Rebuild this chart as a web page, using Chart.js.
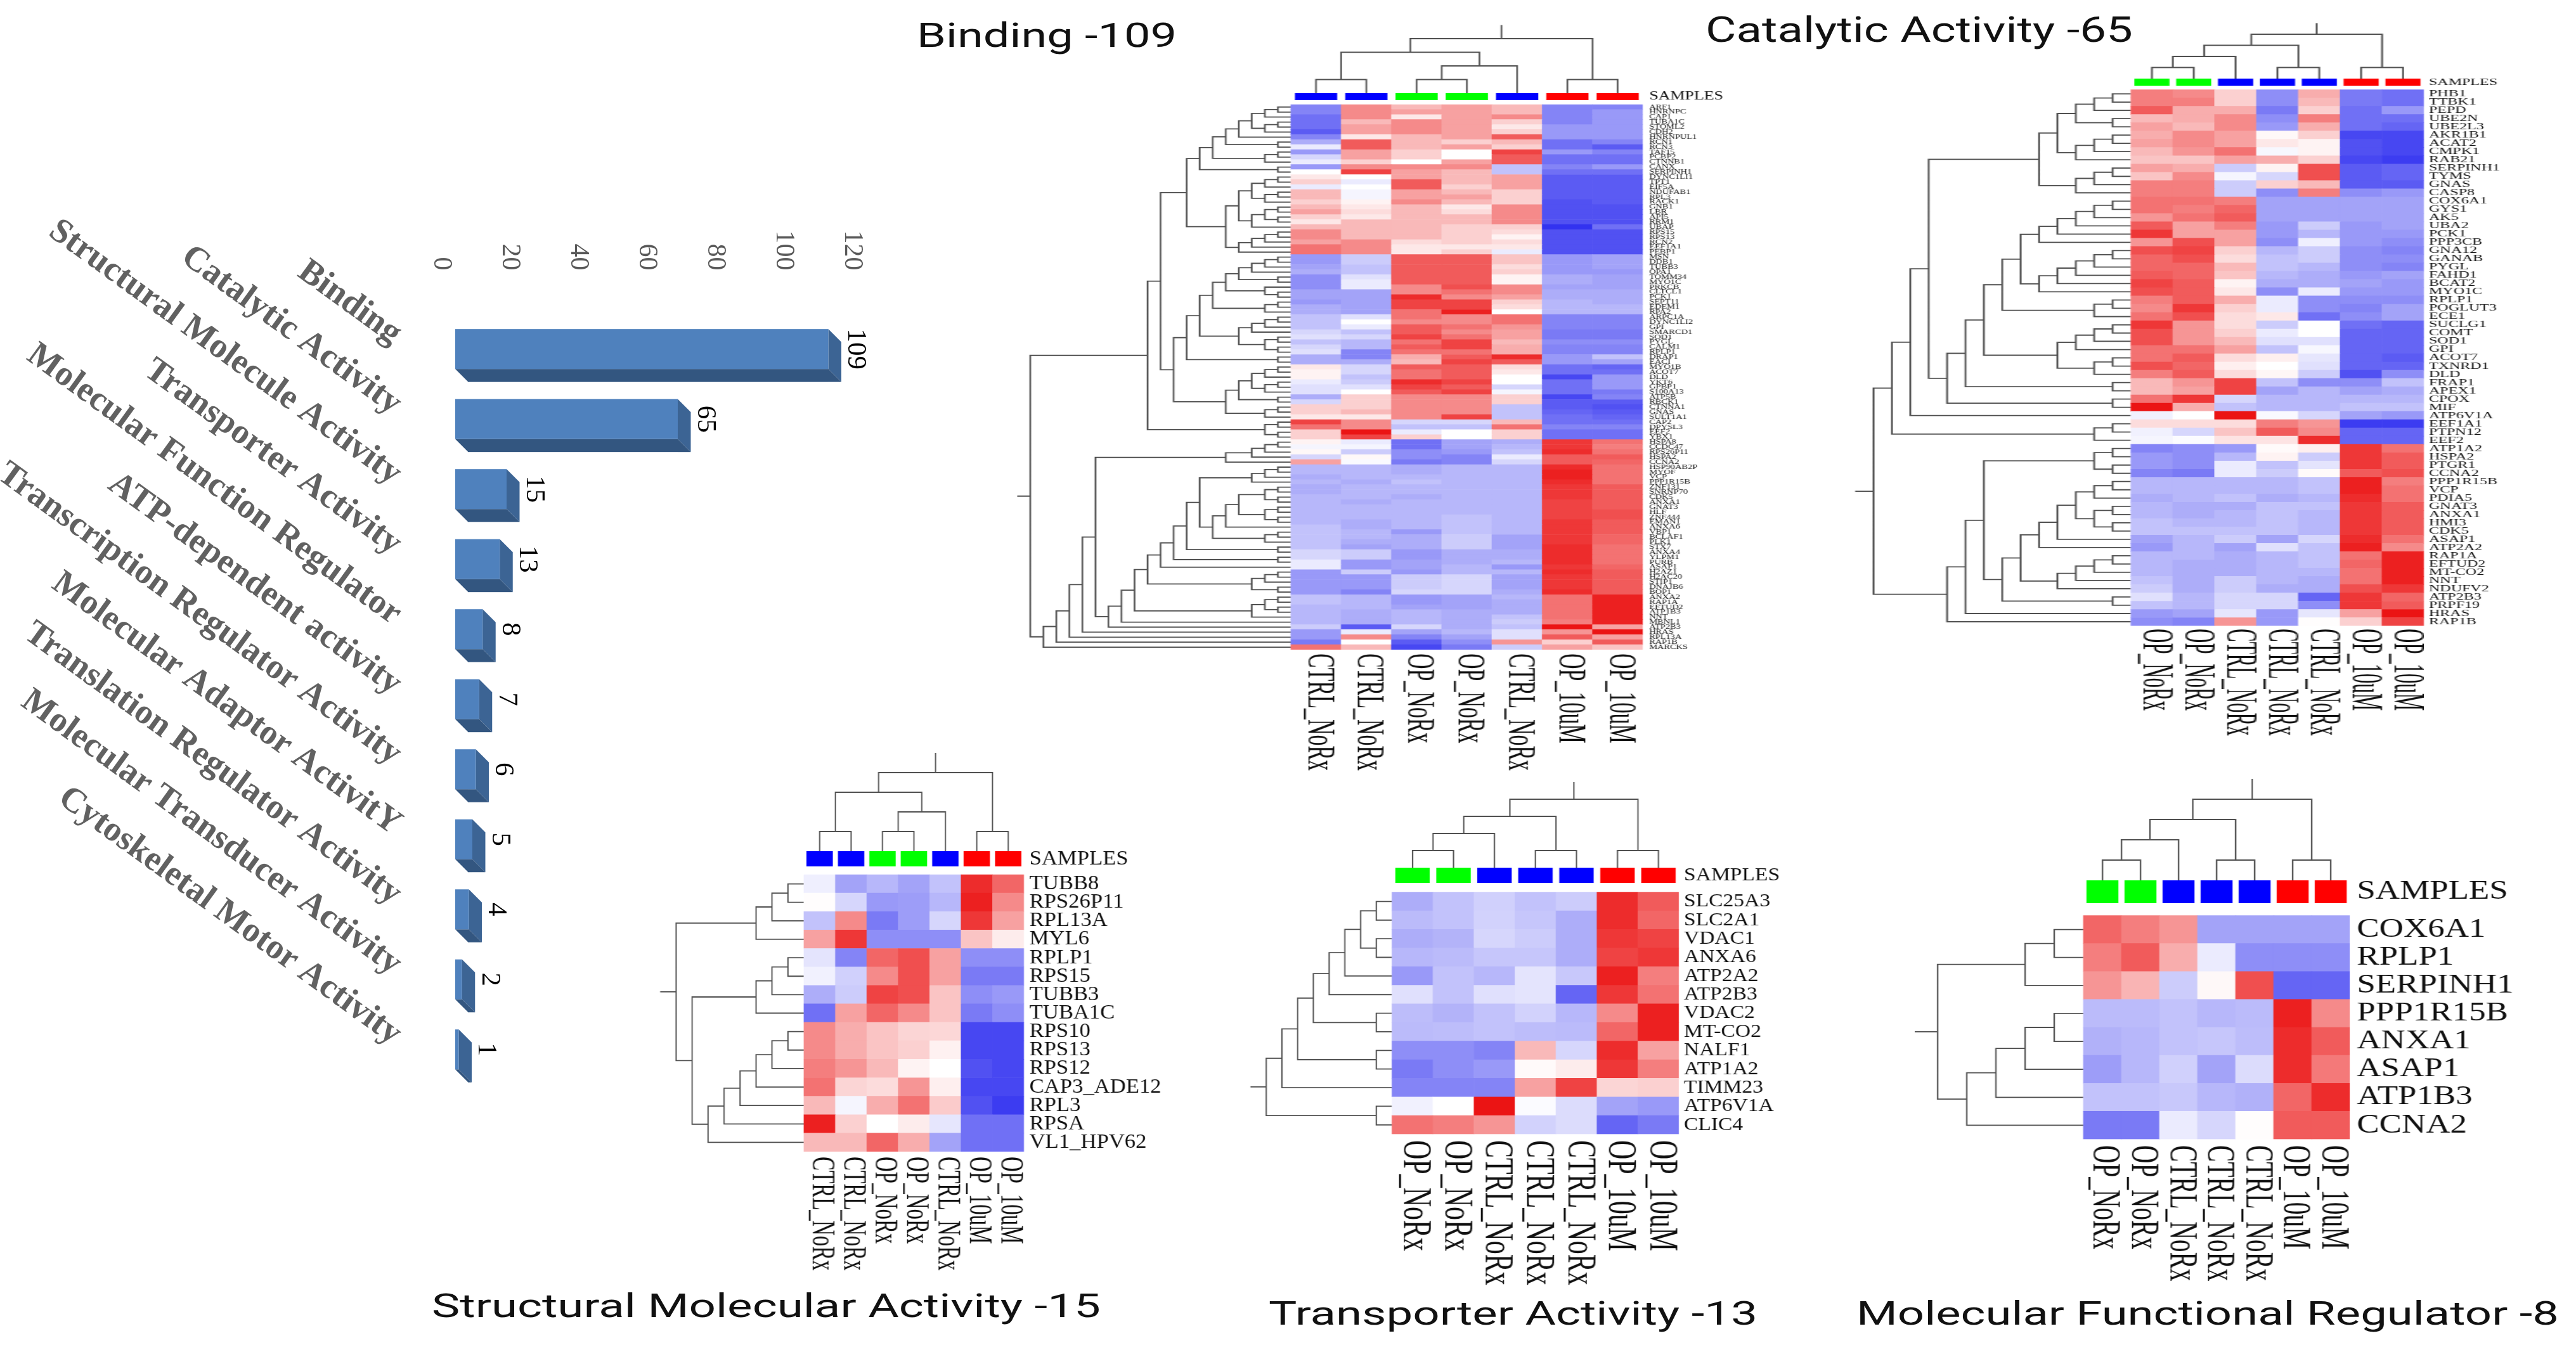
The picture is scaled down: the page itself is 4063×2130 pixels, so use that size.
<!DOCTYPE html>
<html>
<head>
<meta charset="utf-8">
<title>GO molecular function heatmaps</title>
<script src="https://cdn.jsdelivr.net/npm/chart.js@4/dist/chart.umd.min.js"></script>
<style>
html, body { margin: 0; padding: 0; background: #fff; }
#page { position: relative; width: 4063px; height: 2130px; overflow: hidden; background: #fff; }
#page canvas { position: absolute; display: block; }
.panel_title { position: absolute; white-space: nowrap; font-family: Roboto, sans-serif; color: #111; line-height: 1; transform-origin: 0 50%; }
</style>
</head>
<body>
<div id="page"></div>
<script>
// ---- bar chart data
const go_categories = ['Binding', 'Catalytic Activity', 'Structural Molecule Activity', 'Transporter Activity',
    'Molecular Function Regulator', 'ATP-dependent activity', 'Transcription Regulator Activity',
    'Molecular Adaptor ActivitY', 'Translation Regulator Activity', 'Molecular Transducer Activity',
    'Cytoskeletal Motor Activity'];
const go_counts = [109, 65, 15, 13, 8, 7, 6, 5, 4, 2, 1];

// ---- heatmap data, values run from -10 (blue) through 0 (white) to 10 (red)
// trees are [left, right, level] nodes, a plain number is a row or column
const binding_samples = ['CTRL_NoRx', 'CTRL_NoRx', 'OP_NoRx', 'OP_NoRx', 'CTRL_NoRx', 'OP_10uM', 'OP_10uM'];
const binding_genes = ['ARF1','HNRNPC','CAP1','TUBA1C','STOML2','CDH2','HNRNPUL1','RCN1','RCN3','TAF15','PCBP2','CTNNB1','CANX','SERPINH1','DYNC1LI1','TPT1','EIF5A','NDUFAB1','RPL3','RACK1','GNB1','LBR','API5','RRM1','UBAP','RPS15','RPS13','RCN2','EEF1A1','PEBP1',
    'MSN','DDB1','TUBB3','OPA1','TOMM34','MYO1C','PRKCB','CLTCL1','PCK1','SEPT11','EDEM1','RPA2','ARPC1A','DYNC1LI2','GPI','SMARCD1','SOD1','PYGL','CALM1','RPLP1','DRAP1','EACI','MYO1B','ACOT7','DLD','YKT6','GPBP1','S100A13','ATP5B','RBCK1','CTNNA1','GNAS','SULT1A1','CAP2','DPYSL3','EEF2','YBX1',
    'HSPA8','CCDC47','RPS26P11','HSPA2','CCNA2','HSP90AB2P','MYOF','VCP','PPP1R15B','ZNF131','SNRNP70','CDK5','ANXA1','GNAT3','HLF','ZNF444','EMAN1','ANXA6','VBP1','BCLAF1','PLK1','STX7','ANXA4','YLPM1','PURB','ASAP1','H2AZ1','H2AC20','STIP1','DNAJB6','BOP1','ANXA2','RAP1A','EFTUD2','ATP1B3','NNT','MBNL1','ATP2B3','HRAS','RPL13A','RAP1B','MARCKS'];
const binding_values = [
[-6,5,3,4,3,-6,-6],[-6,5,4,4,3,-6,-5],[-7,5,1,4,5,-6,-5],[-7,3,5,4,2,-6,-5],[-7,4,5,4,1,-5,-5],[-8,4,5,4,2,-5,-5],[-6,1,3,4,7,-5,-5],
[-4,7,3,2,3,-7,-6],[-1,7,3,4,2,-7,-8],[-5,4,2,0,8,-5,-6],[-2,4,2,0,7,-7,-7],[-1,2,0,4,7,-7,-7],[-5,5,5,5,-3,-6,-5],[0,8,4,3,-3,-7,-7],
[1,0,4,3,4,-8,-8],[2,-1,7,3,4,-8,-8],[-1,0,7,2,4,-8,-8],[3,-0.5,4,3,2,-8,-8],[3,-0.5,4,4,2,-8,-8],[2,0.5,5,3,2,-8.5,-8],[3,1,3,1,5,-8.5,-8.5],
[4,1.5,3,1.5,5,-8.5,-8.5],[2,1,3,3,5,-8.5,-8.5],[1,3,3,3,5,-8.5,-8.5],[3,3,3,2,2,-10,-7],[5,3,3,2,1.5,-8.5,-8.5],[5,3,3,2,0.5,-8.5,-8.5],[4,5,1.5,2,1.5,-8.5,-8.5],[6,5,1,1,1,-8.5,-8.5],[6,5,1,2,-1,-8.5,-8.5],
[-5,-2.5,7,7,2.5,-5,-4.5],[-5,-2.5,7,7,2.5,-5,-4.5],[-4.5,-3,7,7,1.5,-5,-4.5],[-4,-3,7,7,2,-5,-5],[-5.5,-1.5,7,7,0.5,-4,-4.5],[-5.5,-1,7,7,0.5,-4,-4.5],[-5.5,-1,5,7.5,5,-4.5,-4.5],
[-4.5,-4.5,5,6,5,-4,-4],[-4.5,-4.5,9,5,4,-4,-4],[-5,-4.5,8,8,2,-3.5,-4],[-4,-4.5,8,8,1.5,-3.5,-3.5],[-4,-4.5,6,9.5,0,-3.5,-3.5],[-3,-1.5,6,5,6,-6,-6],[-3,0,5,5,6,-6,-6],
[-3,-1,7,6,4.5,-6,-6],[-2,-3,7,5,4,-6.5,-6.5],[-1.5,-2,8,6,4,-6.5,-6.5],[-3,-3.5,6,8,3,-5.5,-5.5],[-2,-3.5,7,8,3.5,-6,-6],[-1.5,-6,6,6,3.5,-6,-6],[-4,-6,3.5,7,9,-5,-3],[-4,-4,3,8,7,-5,-4.5],
[1,-2,7,7,1.5,-7,-7.5],[0.5,-2,6,7,1,-7,-7],[0.5,-3,6,7,0,-9,-5],[-1,-2.5,9,8,0,-7,-5],[-1.5,-1.5,8,7,-2,-7,-5],[-1.5,0,7,8,-0.5,-7,-6.5],[-4,2,5,5,2,-9,-6],[-2,2,5,5,2,-8,-8],
[2,2,5,5,-3,-8,-8.5],[2,3,5,5,-3,-7.5,-8],[1,1,5,8,-3,-7,-7.5],[8,5,-2,-2,3,-7,-7],[6,5,-3,-3,6,-6,-6],[2,10,-1,0,2,-7,-7],[2,8,2,0,2,-7,-7],
[0.5,-1,-7,-4.5,-4,8.5,6],[-0.5,-0.5,-7,-4.5,-3.5,8.5,5.5],[0.3,-2.5,-5.5,-5,-3,9,6],[-2,0.3,-5.5,-6,-1,7,7],[4,-0.3,-6.5,-6,-2,7,6.5],
[-3.5,-3.5,-4,-3.5,-3.5,9,6],[-3.5,-3.5,-4,-3.5,-3.5,9.5,6],[-4,-3.5,-3.5,-3.5,-3.5,9.5,6],[-3.5,-4,-3,-3.5,-3.5,9,6],[-4,-3.5,-3.5,-3.5,-3.5,8.5,7],[-4,-3.5,-3.5,-3.5,-3.5,8.5,7],
[-3.5,-3.5,-4,-3.5,-3.5,8.5,7],[-3.5,-4,-3.5,-3.5,-3.5,8,7],[-3.5,-3.5,-3.5,-3.5,-3.5,8,7],[-3.5,-3.5,-3.5,-3.5,-3.5,8,7.5],[-3.5,-3.5,-3.5,-3,-3.5,8,7.5],[-3.5,-4,-3.5,-3,-3.5,8.5,7],
[-3,-4,-3.5,-3,-3.5,8.5,7],[-3,-3.5,-5,-3,-3.5,8.5,7],[-3,-3.5,-4,-2.5,-4.5,8.5,6.5],[-3,-4,-4,-2.5,-4.5,8.5,6.5],[-3,-4.5,-4,-2.5,-4.5,9,6],[-2,-2.5,-5,-4,-4,9,6],[-2,-2.5,-5,-4,-4,9,6],
[-1,-5,-4.5,-4,-3.5,9,6],[-1,-5,-4.5,-3.5,-5,8.5,6.5],[-5,-2.5,-5,-3.5,-3.5,9,7],[-5,-5,-2.5,-2,-4.5,8.5,7],[-5,-5,-2.5,-2,-4.5,8.5,7],[-5,-5,-2.5,-2,-4.5,8.5,7],[-5,-6,-2,-2,-4,9,7],
[-3,-3.5,-5,-4.5,-3.5,6,9.5],[-3,-3.5,-5,-4.5,-4,6,9.5],[-3.5,-3.5,-4.5,-4.5,-4,6,9.5],[-3.5,-4,-3.5,-4,-4,6,9.5],[-3.5,-4,-3.5,-4,-3,6,9.5],[-3.5,-4,-3.5,-4,-2.5,5.5,9.5],
[-2.5,-8,-2,-4,-3,10,4],[-5,-1,-4.5,-3.5,-1.5,4.5,10],[-5,5,-6,-4.5,-1.5,7,4],[-6.5,0,-8,-5.5,4.5,2,7],[6,3,-9,-6.5,-2.5,4,2.5]];
const binding_col_tree = [[[0,1,1],[[2,3,1],4,2],3],[5,6,1],4];
const b0 = [[[[0,1,1],2,2],[[3,4,1],5,2],3],6,4];
const b13 = [[[b0,[7,8,1],5],[[9,10,1],11,2],6],[12,13,1],7];
const b14 = [[[14,15,1],16,2],[[17,18,1],19,2],3];
const b20 = [[[20,21,1],[22,23,1],2],24,3];
const b25 = [[[[25,26,1],27,2],28,3],29,4];
const b29 = [[b14,b20,4],b25,5];
const b30 = [[[[30,31,1],32,2],33,3],[34,35,1],4];
const b42 = [[[[42,43,1],44,2],45,3],[[46,47,1],[48,49,1],2],4];
const b51 = [[[[b30,[36,[37,38,1],2],5],[[39,40,1],41,2],6],b42,7],[50,51,1],8];
const b52 = [[[[52,53,1],54,2],[[55,56,1],57,2],3],[58,59,1],4];
const b62 = [b52,[[60,61,1],62,2],5];
const b66 = [[[b13,b29,8],[b51,b62,9],10],[[63,64,1],[65,66,1],2],11];
const b72 = [[[72,73,1],74,2],75,3];
const b76 = [[[[76,77,1],[78,79,1],2],[[80,81,1],[82,83,1],2],4],84,5];
const b87 = [b72,[b76,[[85,86,1],87,2],6],7];
const b92 = [[[b87,[88,89,1],8],[90,91,1],9],92,10];
const b97 = [b92,[[[93,94,1],95,2],[96,97,1],3],11];
const b102 = [b97,[[[98,99,1],[100,101,1],2],102,3],12];
const b104 = [[b102,103,13],104,14];
const b67 = [[[[67,68,1],69,2],70,3],71,5];
const b108 = [[[[[b67,b104,15],105,16],106,17],107,18],108,19];
const binding_row_tree = [b66,b108,20];

const catalytic_samples = ['OP_NoRx', 'OP_NoRx', 'CTRL_NoRx', 'CTRL_NoRx', 'CTRL_NoRx', 'OP_10uM', 'OP_10uM'];
const catalytic_genes = ['PHB1','TTBK1','PEPD','UBE2N','UBE2L3','AKR1B1','ACAT2','CMPK1','RAB21','SERPINH1','TYMS','GNAS','CASP8','COX6A1','GYS1','AK5','UBA2','PCK1','PPP3CB','GNA12','GANAB','PYGL','FAHD1','BCAT2','MYO1C','RPLP1','POGLUT3','ECE1','SUCLG1','COMT','SOD1','GPI','ACOT7','TXNRD1','DLD','FRAP1','APEX1','CPOX','MIF','ATP6V1A','EEF1A1','PTPN12','EEF2','ATP1A2','HSPA2','PTGR1','CCNA2','PPP1R15B','VCP','PDIA5','GNAT3','ANXA1','HMI3','CDK5','ASAP1','ATP2A2','RAP1A','EFTUD2','MT-CO2','NNT','NDUFV2','ATP2B3','PRPF19','HRAS','RAP1B'];
const catalytic_values = [
[5.5,5,2,-5.5,3.5,-6.5,-7],[5.5,5.5,2,-5.5,3,-6.5,-7],[7,3.5,3.5,-6.5,2,-7,-5],[3,3.5,5,-5.5,5.5,-7,-7],[4,3,5,-5,3.5,-7,-7.5],[3.5,5,4,0.3,2,-9,-9],[4,5,4,1,0.5,-8.5,-9],[3,4.5,6,-0.4,0.5,-8.5,-9],[2.5,2.5,4,3.5,2,-9,-9.5],
[4,3.5,-2.5,0.5,7.5,-8,-7.5],[2.5,5,-0.5,-2,7.5,-8,-7.5],[5.5,5.5,-2.5,2,3,-8,-8],[5.5,5.5,-2.5,-5.5,5.5,-5.5,-5],[6,6,5.5,-4.5,-4.5,-4.5,-4.5],[6,5.5,6.5,-4.5,-4.5,-4.5,-4.5],[4.5,6,7,-4.5,-4.5,-4.5,-4.5],
[7,4,5.5,-5,-2.5,-5,-4.5],[8.5,4,4,-5,-3.5,-5,-5],[4.5,7.5,4,-5.5,-0.8,-5,-5.5],[7.5,8,2,-3.5,-2.5,-5.5,-6],[6.5,7.5,1.5,-3,-2.5,-5.5,-5.5],[6.5,6.5,3,-3,-3.5,-5.5,-6],[7,6.5,2.5,-3.5,-4,-5,-4.5],[8,7,0.5,-4,-4,-4.5,-5],[7.5,7,1,-5.5,-1,-5,-5],
[5.5,7,3.5,-1,-5.5,-5.5,-5.5],[5,8.5,2,-1,-5.5,-6,-4.5],[6,7.5,1.5,1,-7,-5.5,-4.5],[8.5,4.5,1.5,-2.5,0,-7,-7.5],[7.5,4.5,2,-1,0,-7.5,-7.5],[7.5,4.5,3,-1.5,-1.5,-7.5,-7.5],[6,6,4,-3,-0.4,-7.5,-7.5],[6,7,1.5,0.7,-1.2,-7.5,-8],[7.5,6.5,0.7,0,-1.5,-7.5,-7.5],[5.5,7,1.5,0.4,-2.5,-8.5,-5.5],
[3,4.5,8,-3,-5.5,-5.5,-3],[3,4,8,-4.5,-3.5,-4.5,-4],[6,8.5,-2,-3.5,-3.5,-3.5,-3.5],[10,3.5,-3,-3.5,-3.5,-3,-3],[-0.7,0,10,-0.3,-2,-4.5,-5],[1.5,1.5,1.5,5.5,4.5,-9.5,-9.5],[-0.7,-2,2.5,7,5,-7.5,-7.5],[-0.5,-0.2,1.2,1.2,9,-7.5,-7.5],
[-6,-5.5,-5,0.2,0.7,8.5,6],[-5,-5.5,-3.5,0.5,-2.5,8.5,7],[-5,-5.5,-1,-3,-1.3,8.5,7],[-6,-6.5,-1,-2.5,0.2,7,7.5],[-3.5,-3.5,-3.5,-3.5,-3,9.5,5.5],[-3.5,-3.5,-3.5,-3.5,-3,9.5,6],[-4,-3.5,-3,-4,-3.5,9,6],[-3.5,-4,-4,-3,-3,8.5,7],[-3.5,-4,-3.5,-3,-3.5,8.5,7],[-3,-3.5,-3.5,-3,-3.5,8.5,7],[-3,-3,-3,-3,-3.5,8.5,7],
[-4.5,-3.5,-2.5,-4.5,-2,9,6],[-5,-3.5,-4.5,-1.5,-3,9.5,5],[-3.5,-3.5,-4,-3.5,-3,6,9.5],[-3.5,-4,-4,-3.5,-3,6.5,9.5],[-3.5,-4,-4,-3.5,-3.5,6,9.5],[-3,-4,-2.5,-3.5,-4,6,9.5],[-2.5,-4,-2.5,-4,-4,7.5,8.5],[-1.5,-3.5,-2,-2,-7.5,8.5,6.5],[-3,-3.5,-2,-2,-5.5,8.5,7],[-5,-4.5,-1.2,-5,-1.2,4,10],[-5.5,-6,4.5,-5,0.1,2,8]];
const catalytic_col_tree = [[[[0,1,1],2,2],[3,4,1],3],[5,6,1],4];
const c0 = [[[0,1,1],2,2],[3,4,1],3];
const c5 = [[[5,6,1],7,2],8,3];
const c9 = [[[9,10,1],11,2],12,3];
const c12 = [[c0,c5,4],c9,5];
const c18 = [[[[[13,14,1],15,2],16,3],17,4],18,5];
const c24 = [[[[[19,20,1],21,2],22,3],23,4],24,5];
const c27 = [[c18,c24,6],[[25,26,1],27,2],7];
const c34 = [c27,[[[[28,29,1],30,2],31,3],[[32,33,1],34,2],4],8];
const c38 = [[c34,[35,36,1],9],[37,38,1],10];
const c42 = [[[c12,c38,11],39,12],[[40,41,1],42,2],13];
const c53 = [[[47,48,1],49,2],[[50,51,1],[52,53,1],2],3];
const c55 = [[c53,54,4],55,5];
const c60 = [[[[56,57,1],58,2],59,3],60,4];
const c62 = [[c55,c60,6],[61,62,1],7];
const c64 = [[[[[43,44,1],[45,46,1],2],c62,8],63,9],64,10];
const catalytic_row_tree = [c42,c64,14];

const structural_samples = ['CTRL_NoRx', 'CTRL_NoRx', 'OP_NoRx', 'OP_NoRx', 'CTRL_NoRx', 'OP_10uM', 'OP_10uM'];
const structural_genes = ['TUBB8','RPS26P11','RPL13A','MYL6','RPLP1','RPS15','TUBB3','TUBA1C','RPS10','RPS13','RPS12','CAP3_ADE12','RPL3','RPSA','VL1_HPV62'];
const structural_values = [
[-0.8,-4.5,-3.5,-4.5,-3,9,6.5],[0.1,-2,-5,-4.8,-3.5,9.5,5],[-3,5,-6.5,-4.8,-2,8.5,4],[4,8.5,-5.5,-5.5,-5.5,2.5,0.8],[-1.3,-6,6.5,7.5,4,-5.5,-5.5],
[-0.7,-2.3,5,7.5,4,-6.5,-6.5],[-4,-2.5,8,7.5,2.5,-5.5,-5],[-7,4,6.5,5,2.5,-6.5,-5.5],[5,3.5,2.5,1.8,1.7,-9,-9],[5,3.5,2.5,2,0.6,-9,-9],
[5.5,4.5,3,0.5,0,-8.5,-9],[6,1.8,1.5,4.5,0.7,-9,-9],[3,-0.5,3.5,6,2.2,-8.5,-9.5],[9.5,2,0,0.8,-1.2,-7,-7],[3,3,6.5,3.5,-4.5,-7,-7]];
const structural_col_tree = [[[0,1,1],[[2,3,1],4,2],3],[5,6,1],4];
const s3 = [[[0,1,1],2,2],3,3];
const s7 = [[[4,5,1],6,2],7,3];
const s14 = [[[[[[8,9,1],10,2],11,3],12,4],13,5],14,6];
const structural_row_tree = [s3,[s7,s14,7],8];

const transporter_samples = ['OP_NoRx', 'OP_NoRx', 'CTRL_NoRx', 'CTRL_NoRx', 'CTRL_NoRx', 'OP_10uM', 'OP_10uM'];
const transporter_genes = ['SLC25A3','SLC2A1','VDAC1','ANXA6','ATP2A2','ATP2B3','VDAC2','MT-CO2','NALF1','ATP1A2','TIMM23','ATP6V1A','CLIC4'];
const transporter_values = [
[-4,-3,-2.3,-3,-2.5,9,7],[-3.3,-3,-2.2,-2.8,-4,9,6.5],[-4,-3.7,-2,-2.5,-4,8.5,8],[-3.5,-3.3,-2.8,-2.8,-4,8,8.5],[-5,-3,-3.5,-1.3,-2.7,9.5,5.5],[-1.5,-3,-1.5,-1.3,-7.5,8.5,6],
[-3.2,-3.7,-3,-2.2,-3.5,5,9.5],[-3.3,-3.2,-3,-3.2,-3.3,6.5,9.5],[-5.5,-5.5,-6,3,-2,9,4],[-6.5,-5.5,-5,0.2,0.8,8.5,5.5],[-6,-6,-6,4,8,1.8,2],[-0.7,0,10,-0.2,-1.7,-4.5,-5],[6,5.5,4.5,-2.2,-1.7,-7.5,-6.5]];
const transporter_col_tree = [[[[0,1,1],2,2],[3,4,1],3],[5,6,1],4];
const t5 = [[[[0,1,1],[2,3,1],2],4,3],5,4];
const transporter_row_tree = [[[[t5,[6,7,1],5],[8,9,1],6],10,7],[11,12,1],8];

const regulator_samples = ['OP_NoRx', 'OP_NoRx', 'CTRL_NoRx', 'CTRL_NoRx', 'CTRL_NoRx', 'OP_10uM', 'OP_10uM'];
const regulator_genes = ['COX6A1','RPLP1','SERPINH1','PPP1R15B','ANXA1','ASAP1','ATP1B3','CCNA2'];
const regulator_values = [
[6.5,5.5,4.5,-4.5,-4.5,-4.5,-4.5],[5.5,7,3.5,-1,-5.5,-5.5,-5.5],[4.5,3.2,-2.5,0.3,7.5,-7.5,-7.5],[-3.3,-3.3,-3,-3.5,-3.3,9.5,5],
[-3.8,-3.5,-3,-2.8,-3.2,9,7],[-4.8,-3.5,-2.3,-4.5,-1.7,9,5.7],[-3,-3,-2.7,-3.5,-3.8,6.5,9],[-6.5,-6.5,-1,-2,0.1,7,7]];
const regulator_col_tree = [[[[0,1,1],2,2],[3,4,1],3],[5,6,1],4];
const regulator_row_tree = [[[0,1,1],2,2],[[[[3,4,1],5,2],6,3],7,4],5];

// ---- layout of each heatmap on the page, pixels
const panels = [
    {samples: binding_samples, genes: binding_genes, values: binding_values, col_tree: binding_col_tree, row_tree: binding_row_tree,
     stretch: 1.44, left: 1600, right: 2760, top: 30, bottom: 1235, heat_left: 2036, heat_right: 2591, heat_top: 165, heat_bottom: 1025,
     strip_top: 147, strip_bottom: 158, col_level: 21.5, row_level: 20.55, gene_font: 10, label_font: 18, sample_font: 34, sample_top: 1031, sample_stretch: 1.85, gene_pad: 7},
    {samples: catalytic_samples, genes: catalytic_genes, values: catalytic_values, col_tree: catalytic_col_tree, row_tree: catalytic_row_tree,
     stretch: 1.6, left: 2920, right: 3993, top: 30, bottom: 1200, heat_left: 3361, heat_right: 3823, heat_top: 141.6, heat_bottom: 987.5,
     strip_top: 124, strip_bottom: 135.6, col_level: 17.5, row_level: 29, gene_font: 15, label_font: 15, sample_font: 31, sample_top: 992, sample_stretch: 2.2, gene_pad: 5},
    {samples: structural_samples, genes: structural_genes, values: structural_values, col_tree: structural_col_tree, row_tree: structural_row_tree,
     stretch: 1.07, left: 1030, right: 1855, top: 1180, bottom: 2020, heat_left: 1268, heat_right: 1615, heat_top: 1380, heat_bottom: 1817,
     strip_top: 1343, strip_bottom: 1367, col_level: 31, row_level: 25.2, gene_font: 32.4, label_font: 32.4, sample_font: 33, sample_top: 1825, sample_stretch: 1.55, gene_pad: 8},
    {samples: transporter_samples, genes: transporter_genes, values: transporter_values, col_tree: transporter_col_tree, row_tree: transporter_row_tree,
     stretch: 1.12, left: 1965, right: 2828, top: 1228, bottom: 2040, heat_left: 2195.5, heat_right: 2648, heat_top: 1407.7, heat_bottom: 1789.5,
     strip_top: 1369, strip_bottom: 1393, col_level: 27, row_level: 24.8, gene_font: 30, label_font: 30, sample_font: 42, sample_top: 1799, sample_stretch: 1.52, gene_pad: 7},
    {samples: regulator_samples, genes: regulator_genes, values: regulator_values, col_tree: regulator_col_tree, row_tree: regulator_row_tree,
     stretch: 1.25, left: 3020, right: 3976, top: 1222, bottom: 2032, heat_left: 3286, heat_right: 3706, heat_top: 1444.5, heat_bottom: 1797.5,
     strip_top: 1389, strip_bottom: 1425, col_level: 32, row_level: 46, gene_font: 42.4, label_font: 42.4, sample_font: 39.4, sample_top: 1807, sample_stretch: 1.6, gene_pad: 9}
];
const titles = [
    {text: 'Binding -109', left: 1446, right: 1856, mid: 56, size: 53},
    {text: 'Catalytic Activity -65', left: 2690, right: 3364, mid: 47.5, size: 55},
    {text: 'Structural Molecular Activity -15', left: 681, right: 1736, mid: 2061, size: 52},
    {text: 'Transporter Activity -13', left: 2001, right: 2772, mid: 2073, size: 52},
    {text: 'Molecular Functional Regulator -8', left: 2928, right: 4036, mid: 2073, size: 52}
];
const sample_colors = {CTRL_NoRx: '#0000ff', OP_NoRx: '#00ff00', OP_10uM: '#ff0000'};
const page = document.getElementById('page');

function heat_color(v) {
    const t = Math.min(Math.abs(v) / 10, 1);
    if (v >= 0) {
        return `rgb(${Math.round(255 - 20 * t)},${Math.round(255 - 235 * t)},${Math.round(255 - 235 * t)})`;
    }
    return `rgb(${Math.round(255 - 205 * t)},${Math.round(255 - 205 * t)},${Math.round(255 - 15 * t)})`;
}

// walks the tree and pushes the U links, null points break the line
function tree_points(node, out, to_point) {
    if (!Array.isArray(node)) {
        return {pos: node + 0.5, level: 0};
    }
    const a = tree_points(node[0], out, to_point);
    const b = tree_points(node[1], out, to_point);
    out.push(to_point(a.pos, a.level), to_point(a.pos, node[2]), to_point(b.pos, node[2]), to_point(b.pos, b.level), {x: 0, y: null});
    return {pos: (a.pos + b.pos) / 2, level: node[2]};
}

function make_canvas(left, top, width, height) {
    const canvas = document.createElement('canvas');
    canvas.width = width;
    canvas.height = height;
    canvas.style.left = left + 'px';
    canvas.style.top = top + 'px';
    page.appendChild(canvas);
    return canvas;
}

// the figure's panels were squeezed unevenly, so a canvas is drawn narrow and widened to its place
function stretched_canvas(left, right, top, bottom, stretch) {
    const canvas = make_canvas(left, top, Math.round((right - left) / stretch), bottom - top);
    canvas.style.transformOrigin = '0 0';
    canvas.style.transform = `scaleX(${(right - left) / canvas.width})`;
    return canvas;
}

function clear_padding(axis) {
    axis.paddingLeft = axis.paddingRight = axis.paddingTop = axis.paddingBottom = 0;
}

function draw_heatmap(p) {
    const n_rows = p.genes.length;
    const n_cols = p.samples.length;
    const col_w = (p.heat_right - p.heat_left) / n_cols;
    const row_h = (p.heat_bottom - p.heat_top) / n_rows;
    const to_y = (px) => (p.heat_bottom - px) / row_h;
    const canvas = stretched_canvas(p.left, p.right, p.top, p.bottom, p.stretch);

    const cells = [];
    const cell_colors = [];
    p.values.forEach((row, r) => row.forEach((v, c) => {
        cells.push({x: c + 0.5, y: [n_rows - r - 1, n_rows - r]});
        cell_colors.push(heat_color(v));
    }));
    const strip = p.samples.map((s, c) => ({x: c + 0.5, y: [to_y(p.strip_bottom), to_y(p.strip_top)]}));

    const col_points = [];
    const col_y = (level) => to_y(p.strip_top) + level * p.col_level / row_h;
    const col_root = tree_points(p.col_tree, col_points, (pos, level) => ({x: pos, y: col_y(level)}));
    col_points.push({x: col_root.pos, y: col_y(col_root.level)}, {x: col_root.pos, y: col_y(col_root.level + 1)});

    const row_points = [];
    const row_point = (pos, level) => ({x: -level * p.row_level / col_w, y: n_rows - pos});
    const row_root = tree_points(p.row_tree, row_points, row_point);
    row_points.push(row_point(row_root.pos, row_root.level), row_point(row_root.pos, row_root.level + 1));

    const line_style = {type: 'line', borderColor: '#505050', borderWidth: 1.8, pointRadius: 0, tension: 0, fill: false, spanGaps: false, clip: false};
    const side_labels = p.genes.concat(['SAMPLES']);

    new Chart(canvas, {
        type: 'bar',
        data: {
            datasets: [
                {data: cells, backgroundColor: cell_colors, borderWidth: 0, grouped: false, barPercentage: 1, categoryPercentage: 1},
                {data: strip, backgroundColor: p.samples.map((s) => sample_colors[s]), borderWidth: 0, grouped: false, barPercentage: 0.84, categoryPercentage: 1},
                Object.assign({data: col_points}, line_style),
                Object.assign({data: row_points}, line_style)
            ]
        },
        options: {
            responsive: false,
            animation: false,
            devicePixelRatio: 1,
            events: [],
            layout: {padding: {left: 0, right: 0, top: 0, bottom: p.bottom - p.heat_bottom}},
            plugins: {legend: {display: false}, tooltip: {enabled: false}},
            scales: {
                x: {
                    type: 'linear',
                    position: 'top',
                    offset: false,
                    min: -(p.heat_left - p.left) / col_w,
                    max: n_cols,
                    grid: {display: false, drawTicks: false},
                    border: {display: false},
                    afterFit: (axis) => { axis.height = 0; clear_padding(axis); },
                    ticks: {display: false}
                },
                y: {
                    type: 'linear',
                    position: 'right',
                    min: 0,
                    max: to_y(p.top),
                    grid: {display: false, drawTicks: false},
                    border: {display: false},
                    afterBuildTicks: (axis) => {
                        axis.ticks = p.genes.map((g, r) => ({value: n_rows - r - 0.5}));
                        axis.ticks.push({value: to_y((p.strip_top + p.strip_bottom) / 2)});
                    },
                    afterFit: (axis) => { axis.width = (p.right - p.heat_right) / p.stretch; clear_padding(axis); },
                    ticks: {
                        autoSkip: false,
                        padding: p.gene_pad,
                        color: '#111111',
                        font: (ctx) => ({family: '"Liberation Serif"', size: ctx.index === n_rows ? p.label_font : p.gene_font}),
                        callback: (value, index) => side_labels[index]
                    }
                }
            }
        }
    });
}

// sample names have their own, wider stretch, so they sit on an axis-only chart under the heatmap
function draw_sample_axis(p) {
    const canvas = stretched_canvas(p.heat_left, p.heat_right, p.sample_top, p.bottom, p.sample_stretch);
    new Chart(canvas, {
        type: 'scatter',
        data: {datasets: []},
        options: {
            responsive: false,
            animation: false,
            devicePixelRatio: 1,
            events: [],
            plugins: {legend: {display: false}, tooltip: {enabled: false}},
            scales: {
                x: {
                    type: 'linear',
                    position: 'top',
                    min: 0,
                    max: p.samples.length,
                    grid: {display: false, drawTicks: false},
                    border: {display: false},
                    afterBuildTicks: (axis) => { axis.ticks = p.samples.map((s, c) => ({value: c + 0.5})); },
                    afterFit: (axis) => { axis.height = 0; clear_padding(axis); },
                    ticks: {
                        autoSkip: false,
                        minRotation: -90,
                        maxRotation: -90,
                        mirror: true,
                        padding: 0,
                        labelOffset: 2,
                        color: '#111111',
                        font: {family: '"Liberation Serif"', size: p.sample_font},
                        callback: (value, index) => p.samples[index]
                    }
                },
                y: {display: false}
            }
        }
    });
}

// the bar chart is a plain column chart turned a quarter clockwise, as in the figure
const bar_depth = 20.5;
const bar_faces = {
    id: 'bar_faces',
    beforeDatasetsDraw(chart) {
        const ctx = chart.ctx;
        const d = bar_depth;
        ctx.save();
        chart.getDatasetMeta(0).data.forEach((bar) => {
            const x0 = bar.x - bar.width / 2;
            const x1 = bar.x + bar.width / 2;
            ctx.fillStyle = '#3c6494';
            ctx.beginPath();
            ctx.moveTo(x0, bar.y); ctx.lineTo(x1, bar.y); ctx.lineTo(x1 + d, bar.y - d); ctx.lineTo(x0 + d, bar.y - d);
            ctx.closePath();
            ctx.fill();
            ctx.fillStyle = '#335680';
            ctx.beginPath();
            ctx.moveTo(x1, bar.y); ctx.lineTo(x1, bar.base); ctx.lineTo(x1 + d, bar.base - d); ctx.lineTo(x1 + d, bar.y - d);
            ctx.closePath();
            ctx.fill();
        });
        ctx.restore();
    },
    afterDatasetsDraw(chart) {
        const ctx = chart.ctx;
        ctx.save();
        ctx.fillStyle = '#000000';
        ctx.font = '43px "Liberation Serif"';
        ctx.textAlign = 'center';
        ctx.textBaseline = 'bottom';
        chart.getDatasetMeta(0).data.forEach((bar, i) => {
            ctx.fillText(String(go_counts[i]), bar.x, bar.y - bar_depth - 1);
        });
        ctx.restore();
    }
};

function draw_bars() {
    const size = 1500;
    const canvas = make_canvas(0, 300, size, size);
    canvas.style.transform = 'rotate(90deg)';
    new Chart(canvas, {
        type: 'bar',
        data: {
            labels: go_categories,
            datasets: [{data: go_counts, backgroundColor: '#4f81bd', borderWidth: 0, barPercentage: 0.57, categoryPercentage: 1}]
        },
        plugins: [bar_faces],
        options: {
            responsive: false,
            animation: false,
            devicePixelRatio: 1,
            events: [],
            layout: {padding: {top: 134, right: 89, left: 0, bottom: 0}},
            plugins: {legend: {display: false}, tooltip: {enabled: false}},
            scales: {
                x: {
                    grid: {display: false},
                    border: {display: false},
                    afterFit: (axis) => { axis.height = 718; clear_padding(axis); },
                    ticks: {
                        autoSkip: false,
                        minRotation: 54,
                        maxRotation: 54,
                        padding: 64,
                        labelOffset: -18,
                        color: '#616161',
                        font: {family: '"Liberation Serif"', size: 55, weight: 'bold'}
                    }
                },
                y: {
                    min: 0,
                    max: 120,
                    grid: {display: false},
                    border: {display: false},
                    afterFit: (axis) => { axis.width = 195.4; clear_padding(axis); },
                    ticks: {
                        stepSize: 20,
                        padding: 61,
                        labelOffset: 22,
                        color: '#595959',
                        font: {family: '"Liberation Serif"', size: 42}
                    }
                }
            }
        }
    });
}

function draw_titles() {
    for (let t of titles) {
        const el = document.createElement('div');
        el.className = 'panel_title';
        el.textContent = t.text;
        el.style.fontSize = t.size + 'px';
        el.style.left = t.left + 'px';
        el.style.top = (t.mid - t.size / 2) + 'px';
        page.appendChild(el);
        el.style.transform = `scaleX(${(t.right - t.left) / el.getBoundingClientRect().width})`;
    }
}

draw_bars();
panels.forEach((p) => {
    draw_heatmap(p);
    draw_sample_axis(p);
});
draw_titles();
</script>
</body>
</html>
